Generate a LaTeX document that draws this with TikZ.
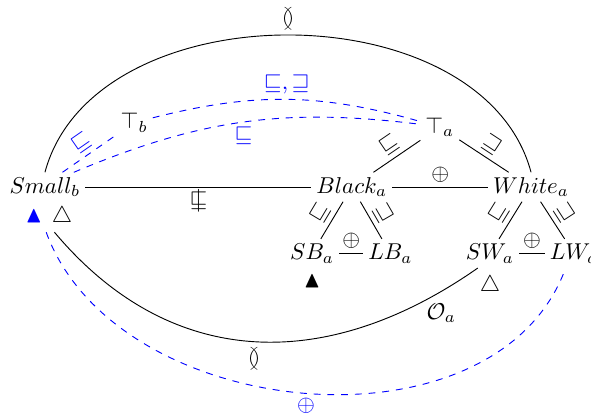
\documentclass[tikz,border=0pt]{standalone}
\usepackage{amsmath}
\usepackage{amssymb}
\usepackage{tikz}
\usepackage{xcolor}

\newcommand{\notsqsub}{\mathrel{\mbox{\ooalign{$\sqsubseteq$\cr\hidewidth$|$\hidewidth\cr}}}}

\begin{document}
\begin{tikzpicture}[every node/.style={inner sep=2pt}, rel/.style={blue, dashed}, rellabel/.style={blue}]
\useasboundingbox (0,0) rectangle (9.07,6.42);
% Tops
\node (tb) at (2.06,4.54) {$\top_b$};
\node (ta) at (6.75,4.47) {$\top_a$};

% Middle row
\node (small) at (0.69,3.55) {$Small_b$};
\node (black) at (5.40,3.55) {$Black_a$};
\node (white) at (8.15,3.55) {$White_a$};
\node (smallmark) at (0.75,3.09) {{\color{blue}$\blacktriangle$}\hspace{1.5mm}$\triangle$};

% Leaves
\node (sb) at (4.79,2.53) {$SB_a$};
\node (lb) at (5.99,2.53) {$LB_a$};
\node (sw) at (7.52,2.53) {$SW_a$};
\node (lw) at (8.81,2.53) {$LW_a$};
\node (sbmark) at (4.79,2.10) {$\blacktriangle$};
\node (swmark) at (7.52,2.04) {$\triangle$};

% Tree a
\draw (black) -- node[sloped, above] {$\sqsubseteq$} (ta);
\draw (ta) -- node[sloped, above] {$\sqsupseteq$} (white);
\draw (small) -- node[below] {$\notsqsub$} (black);
\draw (black) -- node[above] {$\oplus$} (white);
\draw (sb) -- node[sloped, above] {$\sqsubseteq$} (black);
\draw (black) -- node[sloped, above] {$\sqsupseteq$} (lb);
\draw (sb) -- node[above] {$\oplus$} (lb);
\draw (sw) -- node[sloped, above] {$\sqsubseteq$} (white);
\draw (white) -- node[sloped, above] {$\sqsupseteq$} (lw);
\draw (sw) -- node[above] {$\oplus$} (lw);

% Big arcs
\draw (small.north) to[bend left=75] node[above] {$\between$} (white.north);
\draw (smallmark.-70) to[out=-50, in=-145, looseness=1.1] node[below] {$\between$}
    node[pos=0.88, below right=-1pt] {$\mathcal{O}_a$} (sw.-130);

% Mappings
\draw[rel] (small.40) -- node[sloped, above, rellabel] {$\sqsubseteq$} (tb);
\draw[rel] (tb) to[bend left=15] node[above, rellabel] {$\sqsubseteq,\sqsupseteq$} (ta);
\draw[rel] (small.27) to[bend left=15] node[below, rellabel] {$\sqsubseteq$} (ta);
\draw[rel] (smallmark.-100) to[out=-70, in=-110] node[below, rellabel] {$\oplus$} (lw.-120);
\end{tikzpicture}
\end{document}
